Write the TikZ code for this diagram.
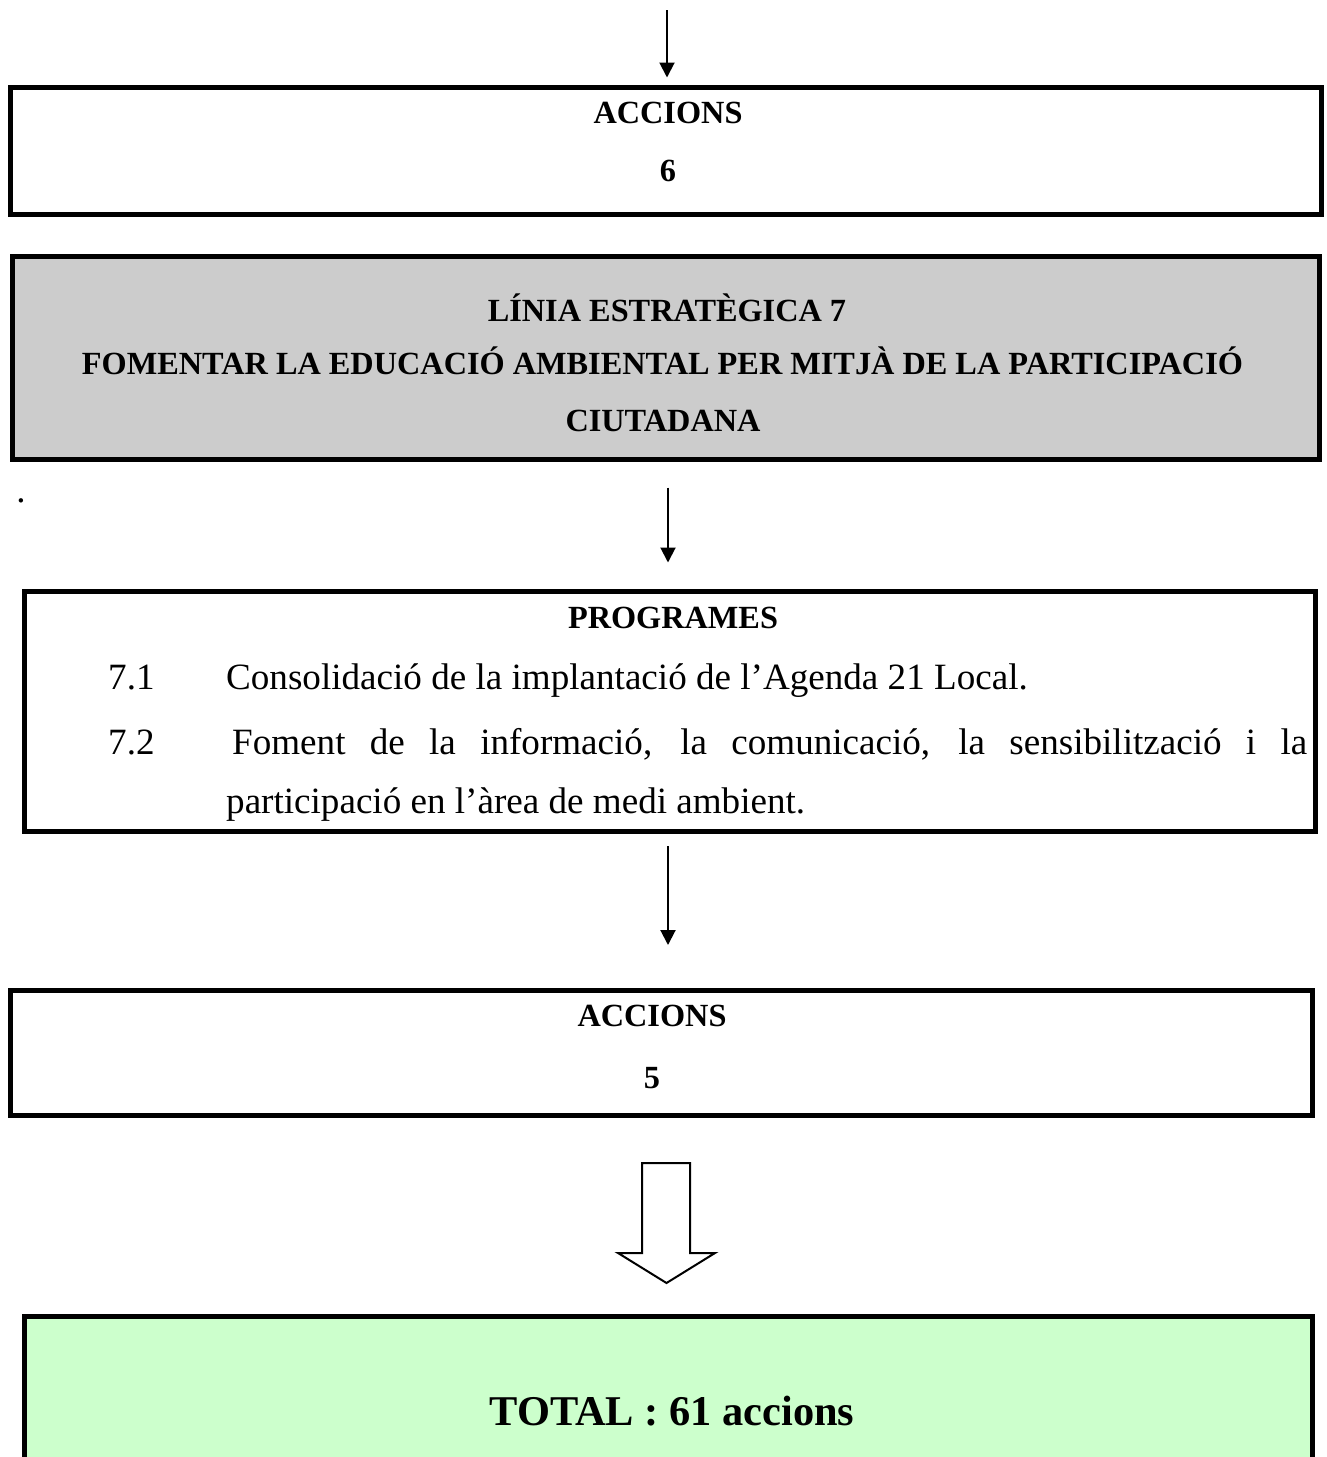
\documentclass[tikz,border=0pt]{standalone}
\usepackage{fontspec}
\setmainfont{Liberation Serif}
\usetikzlibrary{arrows.meta}
\begin{document}
\begin{tikzpicture}[x=1pt,y=-1pt,
  box/.style={draw,line width=5pt,inner sep=0pt,outer sep=0pt,anchor=north west},
  hd/.style={font=\fontsize{32.3}{38}\selectfont\bfseries,anchor=base,inner sep=0pt},
  bd/.style={font=\fontsize{37.1}{44}\selectfont,anchor=base west,inner sep=0pt},
  arr/.style={line width=2pt,-{Triangle[length=15pt,width=15pt]}}]
\useasboundingbox (0,0) rectangle (1327,1457);
\clip (0,0) rectangle (1327,1457);
% boxes
\node[box,minimum width=1311.5pt,minimum height=126.5pt] (b1) at (10,87.5) {};
\node[box,fill={rgb,255:red,204;green,204;blue,204},minimum width=1307pt,minimum height=203pt] (b2) at (12.5,256.5) {};
\node[box,minimum width=1291pt,minimum height=239.5pt] (b3) at (24.5,591.5) {};
\node[box,minimum width=1302pt,minimum height=125pt] (b4) at (10,990) {};
\node[box,fill={rgb,255:red,204;green,255;blue,204},minimum width=1288pt,minimum height=250pt] (b5) at (24.5,1316.5) {};
% texts
\node[hd] (t1a) at (668,123) {ACCIONS};
\node[hd] (t1b) at (668,181) {6};
\node[hd] (t2a) at (667,321) {LÍNIA ESTRATÈGICA 7};
\node[hd] (t2b) at (662.5,374) {FOMENTAR LA EDUCACIÓ AMBIENTAL PER MITJÀ DE LA PARTICIPACIÓ};
\node[hd] (t2c) at (663,431) {CIUTADANA};
\node (dot) [font=\fontsize{37.1}{44}\selectfont,inner sep=0pt,anchor=base] at (21,502) {.};
\node[hd] (t3a) at (673,628) {PROGRAMES};
\node[bd] (n1) at (108,689) {7.1};
\node[bd] (p1) at (226,689) {Consolidació de la implantació de l’Agenda 21 Local.};
\node[bd] (n2) at (108,754) {7.2};
\node[bd] (p2) at (232,754) {\makebox[1075pt][s]{Foment de la informació, la comunicació, la sensibilització i la}};
\node[bd] (p3) at (226,813) {participació en l’àrea de medi ambient.};
\node[hd] (t4a) at (652,1026) {ACCIONS};
\node[hd] (t4b) at (652,1088) {5};
\node[font=\fontsize{42.4}{50}\selectfont\bfseries,anchor=base,inner sep=0pt] (tot) at (672,1425) {TOTAL : 61 accions};
% connectors
\coordinate (s0) at (667,10);
\coordinate (x1) at (667,0);
\coordinate (x2) at (668,0);
\draw[arr,shorten >=10pt] (s0) -- (b1.north -| x1);
\draw[arr,shorten <=28pt,shorten >=29pt] (b2.south -| x2) -- (b3.north -| x2);
\draw[arr,shorten <=15pt,shorten >=45pt] (b3.south -| x2) -- (b4.north -| x2);
% hollow arrow
\draw[line width=2pt,line join=miter,fill=white]
  (642,1163) -- (690,1163) -- (690,1253) -- (715,1253) -- (666.5,1283)
  -- (618,1253) -- (642,1253) -- cycle;
\end{tikzpicture}
\end{document}
